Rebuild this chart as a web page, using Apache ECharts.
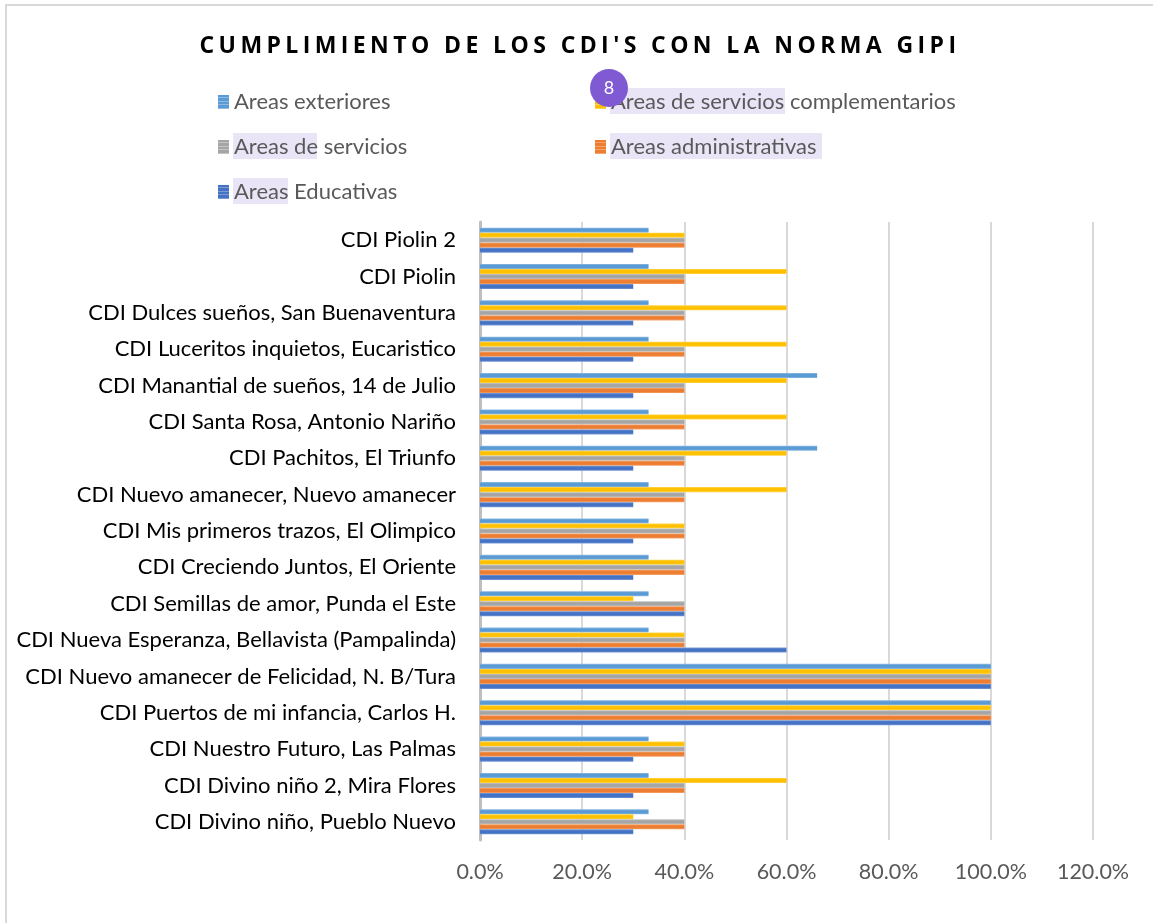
<!DOCTYPE html>
<html>
<head>
<meta charset="utf-8">
<script src="https://cdn.jsdelivr.net/npm/echarts@6/dist/echarts.min.js"></script>
<style>
  html, body { margin: 0; padding: 0; background: #fff; }
  #wrap { position: relative; width: 1153px; height: 923px; }
  #chart { position: absolute; left: 0; top: 0; width: 1153px; height: 923px; }
  #title { position: absolute; left: 0; top: 28px; width: 1160px; text-align: center;
           font-family: "Open Sans", sans-serif; font-weight: bold; font-size: 23px;
           letter-spacing: 4.4px; color: #000; pointer-events: none; z-index: 5; }
</style>
</head>
<body>
<div id="wrap">
  <div id="chart"></div>
  <div id="title">CUMPLIMIENTO DE LOS CDI'S CON LA NORMA GIPI</div>
</div>
<script>
// Categories (bottom to top as drawn by the category axis)
const categories = [
  'CDI Divino niño, Pueblo Nuevo',
  'CDI Divino niño 2, Mira Flores',
  'CDI Nuestro Futuro, Las Palmas',
  'CDI Puertos de mi infancia, Carlos H.',
  'CDI Nuevo amanecer de Felicidad, N. B/Tura',
  'CDI Nueva Esperanza, Bellavista (Pampalinda)',
  'CDI Semillas de amor, Punda el Este',
  'CDI Creciendo Juntos, El Oriente',
  'CDI Mis primeros trazos, El Olimpico',
  'CDI Nuevo amanecer, Nuevo amanecer',
  'CDI Pachitos, El Triunfo',
  'CDI Santa Rosa, Antonio Nariño',
  'CDI Manantial de sueños, 14 de Julio',
  'CDI Luceritos inquietos, Eucaristico',
  'CDI Dulces sueños, San Buenaventura',
  'CDI Piolin',
  'CDI Piolin 2'
];

const seriesNames = [
  'Areas exteriores',
  'Areas de servicios complementarios',
  'Areas de servicios',
  'Areas administrativas',
  'Areas Educativas'
];

const areasExteriores       = [0.33,0.33,0.33,1.00,1.00,0.33,0.33,0.33,0.33,0.33,0.66,0.33,0.66,0.33,0.33,0.33,0.33];
const areasComplementarios  = [0.30,0.60,0.40,1.00,1.00,0.40,0.30,0.40,0.40,0.60,0.60,0.60,0.60,0.60,0.60,0.60,0.40];
const areasServicios        = [0.40,0.40,0.40,1.00,1.00,0.40,0.40,0.40,0.40,0.40,0.40,0.40,0.40,0.40,0.40,0.40,0.40];
const areasAdministrativas  = [0.40,0.40,0.40,1.00,1.00,0.40,0.40,0.40,0.40,0.40,0.40,0.40,0.40,0.40,0.40,0.40,0.40];
const areasEducativas       = [0.30,0.30,0.30,1.00,1.00,0.60,0.40,0.30,0.30,0.30,0.30,0.30,0.30,0.30,0.30,0.30,0.30];

const xTicks = [0, 0.2, 0.4, 0.6, 0.8, 1.0, 1.2];

const seriesData = [areasExteriores, areasComplementarios, areasServicios, areasAdministrativas, areasEducativas];
const colors = ['#5B9BD5', '#FFC000', '#A5A5A5', '#ED7D31', '#4472C4'];
const lightColors = ['#8DB9E3', '#FFD54D', '#C4C4C4', '#F3A46D', '#7A9AD6'];

function stripe(i) {
  return new echarts.graphic.LinearGradient(0, 0, 0, 1, [
    { offset: 0, color: lightColors[i] },
    { offset: 0.3, color: colors[i] },
    { offset: 0.7, color: colors[i] },
    { offset: 1, color: lightColors[i] }
  ]);
}

function legendStripe(i) {
  const stops = [];
  const n = 4;
  for (let k = 0; k < n; k++) {
    stops.push({ offset: k / n, color: colors[i] });
    stops.push({ offset: (k + 0.65) / n, color: colors[i] });
    stops.push({ offset: (k + 0.66) / n, color: lightColors[i] });
    stops.push({ offset: (k + 0.99) / n, color: lightColors[i] });
  }
  return new echarts.graphic.LinearGradient(0, 0, 0, 1, stops);
}

const chart = echarts.init(document.getElementById('chart'), null, { renderer: 'canvas' });

const labelFont = 'Lato, "Liberation Sans", sans-serif';

const legendCommon = {
  orient: 'vertical',
  icon: 'path://M0,0H11V14H0Z',
  itemWidth: 11,
  itemHeight: 14,
  itemGap: 23,
  textStyle: { fontFamily: labelFont, fontSize: 22, color: '#595959', padding: [0, 0, 0, 0] },
  selectedMode: false
};

function legendItem(name) {
  const i = seriesNames.indexOf(name);
  return { name: name, itemStyle: { color: legendStripe(i) } };
}

const option = {
  backgroundColor: '#fff',
  animation: false,
  color: colors,
  legend: [
    Object.assign({}, legendCommon, { left: 213, top: 86, data: ['Areas exteriores', 'Areas de servicios', 'Areas Educativas'].map(legendItem) }),
    Object.assign({}, legendCommon, { left: 590, top: 86, data: ['Areas de servicios complementarios', 'Areas administrativas'].map(legendItem) })
  ],
  grid: { left: 480, right: 60, top: 222, bottom: 83, containLabel: false },
  xAxis: {
    type: 'value',
    min: 0,
    max: 1.2,
    interval: 0.2,
    axisLine: { show: false },
    axisTick: { show: false },
    splitLine: { show: true, lineStyle: { color: '#D9D9D9', width: 2 } },
    axisLabel: {
      margin: 21,
      fontFamily: labelFont,
      fontSize: 21.5,
      color: '#595959',
      formatter: v => (v * 100).toFixed(1) + '%'
    }
  },
  yAxis: {
    type: 'category',
    data: categories,
    axisLine: { show: true, lineStyle: { color: '#BFBFBF', width: 3 } },
    axisTick: { show: false },
    axisLabel: { margin: 24, fontFamily: labelFont, fontSize: 22, color: '#000' }
  },
  graphic: [
    { type: 'rect', shape: { x: 6, y: 5, width: 1200, height: 1000 }, style: { fill: 'none', stroke: '#D9D9D9', lineWidth: 2 }, z: -10, silent: true },
    { type: 'rect', shape: { x: 610, y: 88, width: 175, height: 26 }, style: { fill: '#E9E5F6' }, z: -5, silent: true },
    { type: 'rect', shape: { x: 233, y: 133, width: 84, height: 26 }, style: { fill: '#E9E5F6' }, z: -5, silent: true },
    { type: 'rect', shape: { x: 610, y: 133, width: 212, height: 26 }, style: { fill: '#E9E5F6' }, z: -5, silent: true },
    { type: 'rect', shape: { x: 233, y: 178, width: 55, height: 26 }, style: { fill: '#E9E5F6' }, z: -5, silent: true },
    { type: 'circle', shape: { cx: 609, cy: 88, r: 19 }, style: { fill: '#7F5AD3' }, z: 100, silent: true },
    { type: 'text', x: 609, y: 88, style: { text: '8', fill: '#fff', fontSize: 18, fontFamily: labelFont, align: 'center', verticalAlign: 'middle' }, z: 101, silent: true }
  ],
  series: seriesNames.map((name, i) => ({
    name: name,
    type: 'bar',
    data: seriesData[i],
    barGap: '0%',
    barCategoryGap: '31%',
    itemStyle: { color: stripe(i) }
  }))
};

chart.setOption(option);
</script>
</body>
</html>
